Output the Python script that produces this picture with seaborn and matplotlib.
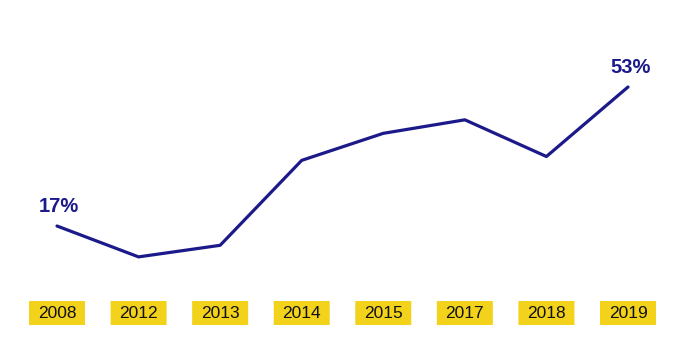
import matplotlib
matplotlib.use("Agg")
import matplotlib.pyplot as plt
import matplotlib.transforms as mtransforms
from matplotlib.patches import FancyBboxPatch
import seaborn as sns
import pandas as pd

years = ["2008", "2012", "2013", "2014", "2015", "2017", "2018", "2019"]
values = [17, 9, 12, 34, 41, 44.5, 35, 53]
labelled = {0: "17%", 7: "53%"}

NAVY = "#1c1a8a"
YELLOW = "#f2d21b"

sns.set_theme(style="white")
plt.rcParams["font.family"] = ["Liberation Sans", "DejaVu Sans"]

W, H = 690, 356
fig = plt.figure(figsize=(W / 100, H / 100), dpi=100)
ax = fig.add_axes([0, 0, 1, 1])

df = pd.DataFrame({"idx": range(len(years)), "value": values, "year": years})
sns.lineplot(data=df, x="idx", y="value", ax=ax, color=NAVY, linewidth=2.3)

# axis scaling so points land where reference has them
px_per_unit = (628 - 57) / 7
ax.set_xlim(-57 / px_per_unit, 7 + (W - 628) / px_per_unit)
px_per_pct = (226 - 87) / (53 - 17)
ax.set_ylim(17 - (H - 226) / px_per_pct, 53 + 87 / px_per_pct)
ax.axis("off")

# value labels
for i, txt in labelled.items():
    ax.annotate(txt, (i, values[i]), xytext=(1.5, 7.5), textcoords="offset points",
                ha="center", va="bottom", fontsize=14.5, fontweight="bold", color=NAVY)

# yellow year boxes
trans = mtransforms.blended_transform_factory(ax.transData, ax.transAxes)
bw = 56 / px_per_unit
bh = 24 / H
yc = (H - 313) / H
for i, y in enumerate(years):
    box = FancyBboxPatch((i - bw / 2, yc - bh / 2), bw, bh,
                         boxstyle="round,pad=0,rounding_size=0.02",
                         transform=trans, facecolor=YELLOW, edgecolor="none",
                         mutation_aspect=bh / bw * 0.1)
    ax.add_patch(box)
    ax.text(i, yc, y, transform=trans, ha="center", va="center",
            fontsize=12.5, color="#111111")

fig.savefig("out.png", dpi=100, facecolor="white")
